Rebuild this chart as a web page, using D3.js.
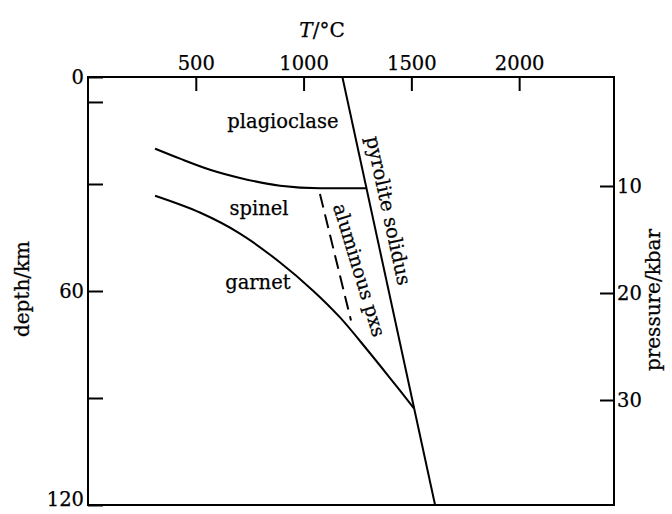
<!DOCTYPE html>
<html>
<head>
<meta charset="utf-8">
<script src="https://cdn.jsdelivr.net/npm/d3@7"></script>
<style>
  html, body { margin: 0; padding: 0; background: #fff; }
  svg { display: block; }
  text { font-family: "DejaVu Serif", serif; fill: #000; }
</style>
</head>
<body>
<svg id="chart" width="672" height="514"></svg>
<script>
// ---- data (temperature °C, depth km, pressure kbar) ----
const tempTicks = [500, 1000, 1500, 2000];
const depthTicks = [0, 7, 30, 60, 90, 120];
const depthLabels = [0, 60, 120];
const pressureTicks = [10, 20, 30];

const solidusT = [1180, 1610];
const solidusD = [0, 120];

const plagT = [311, 427, 566, 705, 891, 1076, 1289];
const plagD = [20.1, 22.9, 26.0, 28.3, 30.5, 31.2, 31.2];

const garnetT = [311, 519, 705, 891, 1044, 1169, 1294, 1401, 1512];
const garnetD = [33.3, 38.0, 43.9, 52.0, 59.9, 67.4, 76.4, 84.4, 92.9];

const aluminousT = [1076, 1220];
const aluminousD = [32.8, 68.3];

const regionNames = ["plagioclase", "spinel", "garnet"];
const regionT = [904, 793, 788];
const regionD = [14.3, 38.7, 59.4];

// ---- layout ----
const svg = d3.select("#chart");
const L = 88, R = 614, T = 77, B = 505;

const x = d3.scaleLinear().domain([0, 2440]).range([L, R]);
const y = d3.scaleLinear().domain([0, 120]).range([T, B]);
const p = d3.scaleLinear().domain([0, 40]).range([T + 2, B + 2]);

const zip = (a, b) => a.map((v, i) => [v, b[i]]);
const line = d3.line().x(d => x(d[0])).y(d => y(d[1]));
const fmt = d3.format("d");

// frame
svg.append("rect")
  .attr("x", L).attr("y", T).attr("width", R - L).attr("height", B - T)
  .attr("fill", "none").attr("stroke", "#000").attr("stroke-width", 2);

// axes
const topAxis = d3.axisTop(x).tickValues(tempTicks).tickSize(-14).tickPadding(6).tickFormat(fmt);
const gTop = svg.append("g").attr("transform", `translate(0,${T})`).call(topAxis);

const leftAxis = d3.axisLeft(y).tickValues(depthTicks).tickSize(-15).tickPadding(4)
  .tickFormat(d => depthLabels.includes(d) ? fmt(d) : "");
const gLeft = svg.append("g").attr("transform", `translate(${L},0)`).call(leftAxis);

const rightAxis = d3.axisRight(p).tickValues(pressureTicks).tickSize(-14).tickPadding(3).tickFormat(fmt);
const gRight = svg.append("g").attr("transform", `translate(${R},0)`).call(rightAxis);

[gTop, gLeft, gRight].forEach(g => {
  g.select(".domain").remove();
  g.selectAll(".tick line").attr("stroke", "#000").attr("stroke-width", 2);
  g.selectAll(".tick text").attr("font-family", "DejaVu Serif").attr("font-size", 19.5)
    .attr("fill", "#000").attr("stroke", "#000").attr("stroke-width", 0.25);
});
gTop.selectAll(".tick text").attr("dy", "-0.05em");
gLeft.selectAll(".tick text").filter(d => d === 120).attr("dy", "0.05em");

// curves
svg.append("path").attr("d", line(zip(solidusT, solidusD)))
  .attr("fill", "none").attr("stroke", "#000").attr("stroke-width", 2);

svg.append("path").attr("d", line.curve(d3.curveMonotoneX)(zip(plagT, plagD)))
  .attr("fill", "none").attr("stroke", "#000").attr("stroke-width", 2);

svg.append("path").attr("d", line.curve(d3.curveCatmullRom.alpha(0.5))(zip(garnetT, garnetD)))
  .attr("fill", "none").attr("stroke", "#000").attr("stroke-width", 2);

svg.append("path").attr("d", line.curve(d3.curveLinear)(zip(aluminousT, aluminousD)))
  .attr("fill", "none").attr("stroke", "#000").attr("stroke-width", 2)
  .attr("stroke-dasharray", "14,7");

const textStyle = sel => sel.attr("stroke", "#000").attr("stroke-width", 0.25);

// region labels
regionNames.forEach((name, i) => {
  svg.append("text").attr("x", x(regionT[i])).attr("y", y(regionD[i]))
    .attr("text-anchor", "middle").attr("font-size", 19.5).call(textStyle).text(name);
});

// rotated labels
function angleOf(t0, d0, t1, d1) {
  return Math.atan2(y(d1) - y(d0), x(t1) - x(t0)) * 180 / Math.PI;
}
const solAng = angleOf(solidusT[0], solidusD[0], solidusT[1], solidusD[1]);
svg.append("text")
  .attr("transform", `translate(382,212) rotate(${solAng})`)
  .attr("text-anchor", "middle").attr("font-size", 19.5).call(textStyle).text("pyrolite solidus");

svg.append("text")
  .attr("transform", `translate(353,272) rotate(73)`)
  .attr("text-anchor", "middle").attr("font-size", 19).call(textStyle).text("aluminous pxs");

// axis titles
const tt = svg.append("text").attr("x", 322).attr("y", 37).attr("text-anchor", "middle")
  .attr("font-size", 20).call(textStyle);
tt.append("tspan").attr("font-style", "italic").text("T");
tt.append("tspan").text("/°C");

svg.append("text").attr("transform", "translate(29,289) rotate(-90)")
  .attr("text-anchor", "middle").attr("font-size", 20).call(textStyle).text("depth/km");

svg.append("text").attr("transform", "translate(660,300) rotate(-90)")
  .attr("text-anchor", "middle").attr("font-size", 20).call(textStyle).text("pressure/kbar");
</script>
</body>
</html>
